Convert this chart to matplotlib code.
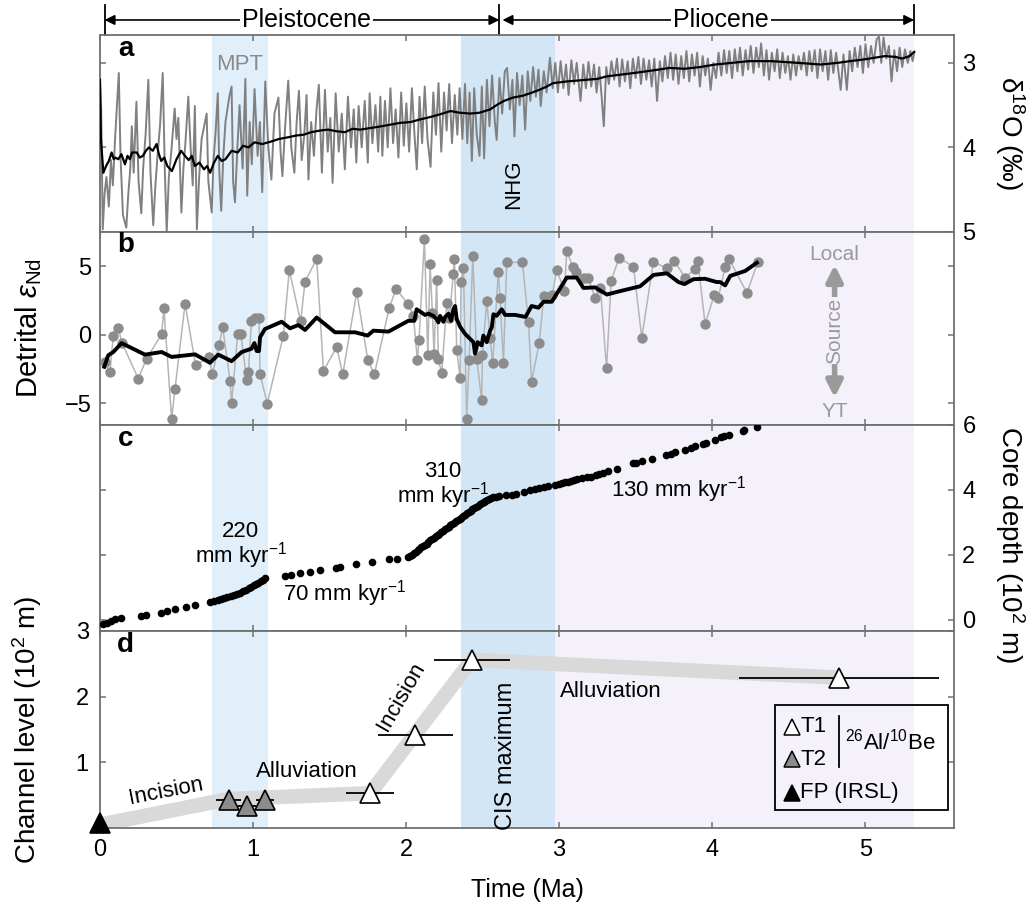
import matplotlib
matplotlib.use('Agg')
import matplotlib.pyplot as plt
from matplotlib import transforms
from matplotlib.patches import Rectangle

plt.rcParams['font.family'] = ['Liberation Sans Narrow', 'Liberation Sans', 'DejaVu Sans']
plt.rcParams['mathtext.fontset'] = 'custom'
plt.rcParams['mathtext.rm'] = 'Liberation Sans'
plt.rcParams['mathtext.it'] = 'Liberation Sans:italic'
plt.rcParams['mathtext.bf'] = 'Liberation Sans:bold'

# ---- data ----
# time windows (Ma)
mpt = (0.73, 1.10)
cis = (2.36, 2.97)
plio = (2.97, 5.32)
epoch_bounds = [0.03, 2.61, 5.32]

# a: benthic d18O stack (age Ma, permil), extremes of the raw curve
d18o_raw = [
    (0.000, 3.22), (0.008, 3.55), (0.018, 4.97), (0.030, 4.55), (0.042, 4.35), (0.058, 4.70), (0.072, 4.15), (0.084, 4.45), (0.100, 3.85), (0.123, 3.12),
    (0.134, 4.10), (0.150, 4.80), (0.172, 4.95), (0.185, 4.55), (0.198, 4.25), (0.208, 3.75), (0.220, 4.30), (0.238, 3.46), (0.252, 4.40), (0.270, 4.78),
    (0.282, 4.25), (0.298, 3.85), (0.316, 3.20), (0.330, 4.30), (0.348, 4.92), (0.362, 4.45), (0.378, 4.05), (0.392, 3.75), (0.410, 3.12), (0.424, 4.30),
    (0.436, 5.00), (0.450, 4.35), (0.466, 4.05), (0.488, 3.54), (0.500, 3.90), (0.512, 3.65), (0.532, 4.77), (0.545, 4.25), (0.558, 3.95), (0.577, 3.40),
    (0.592, 4.00), (0.606, 4.45), (0.620, 3.51), (0.633, 4.97), (0.648, 4.35), (0.664, 3.90), (0.697, 3.60), (0.708, 4.40), (0.730, 4.77), (0.742, 4.15),
    (0.756, 3.80), (0.770, 3.36), (0.780, 4.30), (0.792, 4.75), (0.806, 4.10), (0.820, 3.70), (0.845, 3.40), (0.860, 3.28), (0.870, 4.40), (0.882, 4.65),
    (0.898, 4.00), (0.912, 3.50), (0.932, 4.25), (0.950, 3.19), (0.962, 4.57), (0.978, 3.70), (0.992, 4.20),
    (1.010, 3.31), (1.030, 4.10), (1.045, 3.70), (1.060, 4.53), (1.080, 3.22), (1.100, 4.00), (1.120, 4.38), (1.140, 3.60), (1.166, 3.41), (1.180, 4.05),
    (1.192, 4.34), (1.210, 3.75), (1.230, 3.21), (1.250, 4.00), (1.270, 4.30), (1.285, 3.70), (1.300, 3.33), (1.318, 4.15), (1.335, 3.85), (1.350, 3.38),
    (1.362, 4.38), (1.380, 3.70), (1.398, 4.10), (1.415, 3.55), (1.430, 3.26), (1.450, 4.30), (1.470, 3.32), (1.488, 4.05), (1.505, 3.65), (1.520, 4.42),
    (1.540, 3.36), (1.560, 4.05), (1.580, 3.60), (1.600, 4.26), (1.620, 3.40), (1.640, 4.00), (1.658, 3.55), (1.675, 4.18), (1.690, 3.51), (1.710, 4.00),
    (1.730, 3.45), (1.750, 4.18), (1.762, 3.36), (1.780, 3.95), (1.800, 3.50), (1.818, 4.05), (1.832, 3.40), (1.845, 4.10),
    (1.862, 3.45), (1.880, 4.00), (1.898, 3.30), (1.915, 3.95), (1.932, 3.55), (1.950, 4.12), (1.968, 3.35), (1.985, 3.98), (2.002, 3.48), (2.020, 4.05),
    (2.038, 3.30), (2.055, 3.85), (2.070, 4.26), (2.088, 3.40), (2.105, 3.95), (2.122, 3.28), (2.140, 3.90), (2.160, 4.23), (2.178, 3.35), (2.195, 3.85),
    (2.212, 3.24), (2.230, 4.05), (2.248, 3.35), (2.265, 3.80), (2.282, 3.25), (2.300, 3.95), (2.318, 3.38), (2.335, 3.85), (2.350, 3.30),
    (2.368, 3.90), (2.385, 3.25), (2.400, 3.95), (2.415, 3.35), (2.430, 4.16), (2.445, 3.30), (2.462, 3.85), (2.480, 4.10), (2.495, 3.28), (2.510, 4.13),
    (2.528, 3.20), (2.545, 3.75), (2.562, 3.15), (2.580, 3.70), (2.592, 3.91), (2.610, 3.18), (2.628, 3.60), (2.645, 3.10), (2.660, 3.06), (2.678, 3.55),
    (2.695, 3.20), (2.708, 3.87), (2.725, 3.12), (2.742, 3.50), (2.760, 3.15), (2.778, 3.79), (2.795, 3.10), (2.812, 3.45), (2.830, 3.05), (2.848, 3.40),
    (2.865, 3.08), (2.880, 3.51), (2.900, 3.10), (2.918, 3.35), (2.940, 2.94), (2.958, 3.30),
    (2.975, 3.00), (2.992, 3.35), (3.010, 2.98), (3.028, 3.30), (3.045, 3.02), (3.062, 3.38), (3.080, 2.97), (3.098, 3.25), (3.115, 3.00), (3.140, 3.45),
    (3.158, 3.02), (3.175, 3.30), (3.192, 2.99), (3.210, 3.28), (3.228, 3.02), (3.245, 3.35), (3.262, 3.05), (3.278, 3.40), (3.292, 3.75), (3.308, 3.05),
    (3.325, 3.25), (3.342, 2.98), (3.360, 3.20), (3.378, 2.95), (3.395, 3.28), (3.412, 2.96), (3.430, 3.22), (3.448, 2.98), (3.465, 3.30), (3.482, 2.95),
    (3.500, 3.18), (3.518, 2.93), (3.535, 3.25), (3.552, 2.95), (3.570, 3.20), (3.588, 2.97), (3.605, 3.28), (3.622, 2.95), (3.640, 3.45), (3.658, 2.98),
    (3.675, 3.22), (3.692, 2.92), (3.710, 3.18),
    (3.728, 2.88), (3.745, 3.20), (3.762, 2.90), (3.780, 3.25), (3.798, 2.92), (3.815, 3.18), (3.832, 2.86), (3.850, 3.22), (3.868, 2.90), (3.885, 3.15),
    (3.902, 2.88), (3.920, 3.28), (3.938, 2.92), (3.955, 3.15), (3.972, 2.95), (3.990, 3.32), (4.008, 3.00), (4.025, 3.18), (4.042, 2.88), (4.060, 3.15),
    (4.078, 2.85), (4.095, 3.12), (4.112, 2.86), (4.130, 3.18), (4.148, 2.84), (4.165, 3.10), (4.182, 2.82), (4.200, 3.15), (4.218, 2.85), (4.235, 3.08),
    (4.252, 2.80), (4.270, 3.12), (4.288, 2.82), (4.305, 3.05), (4.320, 2.77), (4.338, 3.15), (4.355, 2.85), (4.372, 3.20), (4.390, 2.88), (4.408, 3.10),
    (4.425, 2.84), (4.442, 3.18), (4.460, 2.88), (4.478, 3.12), (4.495, 2.92), (4.512, 3.20), (4.530, 2.90), (4.548, 3.15), (4.565, 2.92), (4.582, 3.08),
    (4.600, 2.88), (4.618, 3.15), (4.635, 2.86), (4.652, 3.10), (4.670, 2.85), (4.688, 3.18), (4.705, 2.84), (4.722, 3.10), (4.740, 2.86), (4.758, 3.20),
    (4.775, 2.85), (4.792, 3.12), (4.810, 2.88), (4.840, 3.32), (4.858, 2.90), (4.880, 3.32), (4.898, 2.86), (4.915, 3.10), (4.932, 2.82), (4.950, 3.05),
    (4.968, 2.80), (4.985, 3.12), (5.002, 2.78), (5.020, 3.05), (5.038, 2.80), (5.055, 3.00), (5.075, 2.72), (5.090, 2.69), (5.105, 3.00), (5.120, 2.70),
    (5.138, 2.95), (5.155, 2.80), (5.172, 3.22), (5.190, 2.85), (5.208, 3.10), (5.225, 2.82), (5.242, 3.05), (5.260, 2.84), (5.278, 3.00), (5.295, 2.86),
    (5.310, 2.98), (5.320, 2.88),
]
d18o_smooth = [
    (0.000, 3.20), (0.006, 3.90), (0.022, 4.30), (0.040, 4.22), (0.058, 4.16), (0.076, 4.06), (0.090, 4.14), (0.100, 4.12), (0.120, 4.14), (0.140, 4.08),
    (0.163, 4.20), (0.180, 4.10), (0.195, 4.14), (0.210, 4.06), (0.240, 4.06), (0.260, 4.12), (0.280, 4.10), (0.300, 4.04), (0.320, 4.00), (0.345, 4.04),
    (0.370, 3.96), (0.385, 4.08), (0.400, 4.16), (0.420, 4.12), (0.440, 4.22), (0.470, 4.28), (0.500, 4.14), (0.530, 4.04), (0.555, 4.10), (0.580, 4.15),
    (0.600, 4.10), (0.620, 4.22), (0.650, 4.18), (0.680, 4.26), (0.700, 4.22), (0.720, 4.30), (0.745, 4.18), (0.770, 4.10), (0.795, 4.16), (0.820, 4.14),
    (0.860, 4.04), (0.900, 4.06), (0.935, 3.98), (0.970, 4.00), (1.010, 3.94), (1.060, 3.96), (1.120, 3.93), (1.170, 3.90), (1.230, 3.88), (1.280, 3.86),
    (1.330, 3.85), (1.380, 3.82), (1.440, 3.80), (1.490, 3.79), (1.550, 3.81), (1.600, 3.82), (1.650, 3.78), (1.700, 3.79), (1.770, 3.77), (1.840, 3.75),
    (1.900, 3.73), (1.960, 3.71), (2.030, 3.70), (2.090, 3.67), (2.160, 3.64), (2.220, 3.61), (2.290, 3.57), (2.350, 3.59), (2.420, 3.60), (2.480, 3.59),
    (2.550, 3.55), (2.600, 3.49), (2.640, 3.45), (2.700, 3.41), (2.760, 3.39), (2.810, 3.36), (2.870, 3.32), (2.920, 3.28), (2.960, 3.24), (3.050, 3.22),
    (3.180, 3.20), (3.250, 3.19), (3.310, 3.16), (3.400, 3.14), (3.490, 3.12), (3.570, 3.10), (3.650, 3.08), (3.720, 3.06), (3.820, 3.07), (3.920, 3.05),
    (4.020, 3.02), (4.130, 3.00), (4.240, 2.98), (4.390, 2.98), (4.560, 3.00), (4.710, 3.02), (4.820, 3.00), (4.900, 2.98), (4.990, 2.96), (5.060, 2.94),
    (5.130, 2.92), (5.200, 2.93), (5.240, 2.95), (5.290, 2.92), (5.320, 2.87),
]

# b: detrital eNd (age Ma, eNd)
end_pts = [
    (0.033, -1.99), (0.065, -2.76), (0.087, -0.07), (0.120, 0.46), (0.144, -0.60), (0.250, -3.21), (0.305, -1.75), (0.403, 0.05), (0.418, 1.92), (0.468, -6.14),
    (0.490, -3.98), (0.556, 2.25), (0.625, -2.23), (0.712, -1.63), (0.734, -2.90), (0.778, -0.79), (0.802, 0.53), (0.850, -3.38), (0.860, -4.99), (0.900, 0.05),
    (0.920, 0.05), (0.958, -3.31), (0.970, -2.71), (0.990, 1.00), (1.013, 1.20), (1.039, 1.20), (1.046, -2.90), (1.093, -5.04), (1.198, -0.07), (1.237, 4.72),
    (1.311, 0.96), (1.340, 3.88), (1.416, 5.52), (1.460, -2.64), (1.547, -0.91), (1.586, -2.90), (1.678, 3.12), (1.750, -1.87), (1.793, -2.90), (1.889, 1.92),
    (1.935, 3.33), (2.015, 2.21), (2.048, 1.37), (2.074, -1.87), (2.085, -0.36), (2.120, 7.00), (2.142, -1.51), (2.157, 5.13), (2.172, 1.61), (2.183, -1.39),
    (2.200, 4.00), (2.211, -1.80), (2.233, -2.83), (2.266, 2.33), (2.283, 1.25), (2.309, 4.44), (2.316, 5.56), (2.331, -1.10), (2.353, -3.19), (2.359, 3.88),
    (2.375, 4.84), (2.396, -6.14), (2.412, -1.82), (2.436, 5.76), (2.462, -1.80), (2.494, -4.80), (2.499, -1.51), (2.527, 2.49), (2.549, -0.26), (2.566, -2.06),
    (2.603, 4.60), (2.614, 2.69), (2.636, -2.06), (2.658, 5.28), (2.760, 5.28), (2.800, 0.89), (2.820, -3.43), (2.870, -0.62), (2.900, 2.81), (2.956, 2.93),
    (2.984, 4.72), (3.035, 3.21), (3.050, 6.09), (3.090, 4.96), (3.110, 4.60), (3.160, 4.12), (3.190, 4.12), (3.236, 2.69), (3.270, 3.40), (3.310, -2.47),
    (3.340, 3.93), (3.392, 5.61), (3.486, 4.96), (3.540, -0.24), (3.616, 5.32), (3.703, 4.84), (3.751, 5.40), (3.823, 4.17), (3.888, 4.80), (3.906, 5.40),
    (3.954, 0.77), (4.015, 2.93), (4.040, 2.69), (4.085, 4.96), (4.111, 5.52), (4.227, 3.05), (4.298, 5.28),
]
end_smooth = [
    (0.028, -2.35), (0.054, -1.51), (0.087, -1.27), (0.141, -0.62), (0.294, -1.46), (0.403, -1.27), (0.468, -1.63), (0.621, -1.44), (0.719, -2.06), (0.773, -1.46),
    (0.860, -1.94), (0.926, -1.27), (0.990, -1.03), (1.009, -0.62), (1.024, -1.20), (1.039, -1.20), (1.046, -0.19), (1.078, 0.41), (1.187, 0.94), (1.242, 0.46),
    (1.296, 0.70), (1.340, 0.34), (1.416, 1.25), (1.536, 0.17), (1.667, 0.17), (1.749, -0.07), (1.786, 0.29), (1.885, 0.22), (2.015, 1.01), (2.054, 1.01),
    (2.069, 1.85), (2.102, 1.61), (2.124, 1.44), (2.146, 1.53), (2.178, 1.37), (2.200, 1.13), (2.211, 0.89), (2.222, 1.37), (2.244, 0.94), (2.255, 1.29),
    (2.277, 1.53), (2.294, 1.01), (2.309, 1.85), (2.320, 2.09), (2.331, 1.13), (2.353, 0.58), (2.386, 0.05), (2.440, -0.55), (2.451, -1.39), (2.468, -0.55),
    (2.494, -0.79), (2.505, -0.07), (2.527, -0.55), (2.549, 0.29), (2.560, 0.53), (2.571, 1.49), (2.592, 1.37), (2.625, 1.85), (2.647, 1.44), (2.712, 1.44),
    (2.745, 1.37), (2.780, 1.29), (2.820, 2.09), (2.865, 1.97), (2.898, 2.40), (2.952, 2.40), (3.050, 4.17), (3.115, 4.17), (3.159, 3.41), (3.235, 3.45),
    (3.312, 2.93), (3.410, 3.21), (3.529, 3.53), (3.617, 4.36), (3.704, 4.48), (3.780, 3.84), (3.819, 3.69), (3.878, 4.05), (3.954, 4.08), (4.030, 3.84),
    (4.052, 3.84), (4.085, 3.60), (4.118, 4.29), (4.216, 4.65), (4.292, 5.25),
]

# c: age-depth tie points (age Ma, depth 10^2 m)
core = [
    (0.020, -0.14), (0.045, -0.08), (0.070, -0.02), (0.100, 0.02), (0.140, 0.07), (0.270, 0.13), (0.300, 0.16), (0.400, 0.21), (0.440, 0.27), (0.490, 0.33),
    (0.560, 0.41), (0.620, 0.47), (0.720, 0.56), (0.745, 0.59), (0.770, 0.62), (0.790, 0.65), (0.810, 0.67), (0.830, 0.70), (0.855, 0.73), (0.875, 0.76),
    (0.895, 0.80), (0.915, 0.84), (0.935, 0.88), (0.955, 0.92), (0.975, 0.97), (0.990, 1.02), (1.005, 1.06), (1.020, 1.10), (1.035, 1.15), (1.050, 1.19),
    (1.065, 1.24), (1.080, 1.28), (1.210, 1.35), (1.250, 1.38), (1.310, 1.43), (1.370, 1.49), (1.440, 1.53), (1.540, 1.59), (1.570, 1.63), (1.670, 1.71),
    (1.780, 1.77), (1.890, 1.87), (1.940, 1.89), (2.010, 1.94), (2.025, 1.97), (2.038, 2.00), (2.050, 2.05), (2.062, 2.10), (2.075, 2.15), (2.087, 2.19),
    (2.098, 2.23), (2.110, 2.27), (2.122, 2.31), (2.134, 2.35), (2.146, 2.40), (2.158, 2.45), (2.170, 2.49), (2.182, 2.53), (2.194, 2.57), (2.206, 2.61),
    (2.218, 2.66), (2.230, 2.70), (2.242, 2.74), (2.254, 2.79), (2.266, 2.83), (2.278, 2.87), (2.290, 2.91), (2.302, 2.95), (2.314, 2.99), (2.326, 3.03),
    (2.338, 3.07), (2.350, 3.11), (2.362, 3.15), (2.374, 3.19), (2.386, 3.24), (2.398, 3.28), (2.410, 3.32), (2.422, 3.36), (2.434, 3.40), (2.446, 3.44),
    (2.458, 3.48), (2.470, 3.52), (2.482, 3.56), (2.494, 3.60), (2.506, 3.63), (2.518, 3.66), (2.530, 3.69), (2.542, 3.72), (2.555, 3.75), (2.570, 3.77),
    (2.590, 3.79), (2.610, 3.81), (2.650, 3.84), (2.690, 3.86), (2.720, 3.89), (2.770, 3.94), (2.810, 3.99), (2.840, 4.02), (2.870, 4.05), (2.900, 4.08),
    (2.930, 4.11), (2.970, 4.15), (3.000, 4.19), (3.020, 4.21), (3.040, 4.24), (3.060, 4.26), (3.080, 4.28), (3.100, 4.31), (3.120, 4.33), (3.150, 4.36),
    (3.180, 4.39), (3.210, 4.41), (3.240, 4.45), (3.260, 4.48), (3.290, 4.52), (3.320, 4.57), (3.380, 4.64), (3.480, 4.82), (3.500, 4.84), (3.540, 4.88),
    (3.610, 4.95), (3.700, 5.09), (3.730, 5.12), (3.760, 5.16), (3.820, 5.24), (3.860, 5.30), (3.890, 5.36), (3.940, 5.40), (3.960, 5.43), (4.020, 5.55),
    (4.060, 5.62), (4.080, 5.66), (4.110, 5.68), (4.200, 5.82), (4.210, 5.86), (4.290, 5.95),
]

# d: channel level (10^2 m) and burial ages (Ma)
t1_age = [1.765, 2.06, 2.43, 4.83]
t1_err = [0.157, 0.245, 0.25, 0.655]
t1_lvl = [0.53, 1.42, 2.56, 2.29]
t2_age = [0.84, 0.96, 1.08]
t2_err = [0.08, 0.06, 0.06]
t2_lvl = [0.43, 0.33, 0.42]
fp_age = [0.0]
fp_lvl = [0.08]
path_age = [0.0, 0.84, 1.765, 2.43, 4.83]
path_lvl = [0.05, 0.44, 0.53, 2.56, 2.29]

# ---- figure ----
fig = plt.figure(figsize=(10.35, 9.10), dpi=100)
L, W = 0.0966, 0.8251
axA = fig.add_axes([L, 0.7451, W, 0.2165])
axB = fig.add_axes([L, 0.5330, W, 0.2121], sharex=axA)
axC = fig.add_axes([L, 0.3066, W, 0.2264], sharex=axA)
axD = fig.add_axes([L, 0.0901, W, 0.2165], sharex=axA)
axes = [axA, axB, axC, axD]

spine_c = '#707070'
for ax in axes:
    ax.axvspan(*mpt, color='#e1effa', lw=0, zorder=0)
    ax.axvspan(*cis, color='#d3e6f6', lw=0, zorder=0)
    ax.axvspan(*plio, color='#f5f1fb', lw=0, zorder=0)
    for s in ax.spines.values():
        s.set_color(spine_c)
        s.set_linewidth(1.3)
    ax.tick_params(direction='in', top=True, bottom=True, left=True, right=True,
                   length=4.5, width=1.1, color=spine_c, labelsize=17, pad=6,
                   labelbottom=False)
axA.set_xlim(0, 5.58)
axD.set_xticks([0, 1, 2, 3, 4, 5])
axD.tick_params(labelbottom=True, pad=8)
axD.set_xlabel('Time (Ma)', fontsize=18, labelpad=12)

# panel a
ax = axA
t, v = zip(*d18o_raw)
ax.plot(t, v, color='#808080', lw=1.4, zorder=2)
t, v = zip(*d18o_smooth)
ax.plot(t, v, color='black', lw=1.6, zorder=3)
ax.set_ylim(5.0, 2.67)
ax.set_yticks([3, 4, 5])
ax.tick_params(labelleft=False, labelright=True)
ax.yaxis.set_label_position('right')
ax.set_ylabel('δ$^{18}$O (‰)', rotation=270, fontsize=20, family='Liberation Sans')
ax.yaxis.set_label_coords(1.085, 0.5)
ax.text(0.915, 3.02, 'MPT', color='#8a8a8a', fontsize=16, ha='center', va='center', family='Liberation Sans')
ax.text(2.70, 4.44, 'NHG', rotation=90, fontsize=16, ha='center', va='center', family='Liberation Sans')

# epoch bracket
trans = transforms.blended_transform_factory(ax.transData, ax.transAxes)
for xb in epoch_bounds:
    ax.plot([xb, xb], [1.0, 1.15], color='black', lw=1.3, transform=trans, clip_on=False)
ax.annotate('', xy=(epoch_bounds[0], 1.076), xytext=(epoch_bounds[1], 1.076), xycoords=trans, textcoords=trans,
            arrowprops=dict(arrowstyle='<|-|>', color='black', lw=1.2, shrinkA=0, shrinkB=0, mutation_scale=15),
            annotation_clip=False)
ax.annotate('', xy=(epoch_bounds[1] + 0.02, 1.076), xytext=(epoch_bounds[2], 1.076), xycoords=trans, textcoords=trans,
            arrowprops=dict(arrowstyle='<|-|>', color='black', lw=1.2, shrinkA=0, shrinkB=0, mutation_scale=15),
            annotation_clip=False)
ax.text(1.35, 1.076, 'Pleistocene', transform=trans, fontsize=18, ha='center', va='center',
        bbox=dict(fc='white', ec='none', pad=1.5))
ax.text(4.06, 1.076, 'Pliocene', transform=trans, fontsize=18, ha='center', va='center',
        bbox=dict(fc='white', ec='none', pad=1.5))

# panel b
ax = axB
t, v = zip(*end_pts)
ax.plot(t, v, color='#b5b5b5', lw=1.1, zorder=2)
ax.plot(t, v, 'o', color='#8c8c8c', ms=7.5, mec='none', zorder=3)
t, v = zip(*end_smooth)
ax.plot(t, v, color='black', lw=2.8, zorder=4)
ax.set_ylim(-6.6, 7.5)
ax.set_yticks([-5, 0, 5])
ax.set_ylabel('Detrital $\\epsilon_{\\mathrm{Nd}}$', fontsize=21, family='Liberation Sans')
ax.yaxis.set_label_coords(-0.066, 0.5)
ax.annotate('', xy=(4.80, 5.1), xytext=(4.80, -4.6),
            arrowprops=dict(arrowstyle='<|-|>', color='#9a9a9a', lw=4, shrinkA=0, shrinkB=0, mutation_scale=24))
ax.text(4.80, 5.85, 'Local', color='#9a9a9a', fontsize=15, ha='center', va='center', family='Liberation Sans')
ax.text(4.80, -5.65, 'YT', color='#9a9a9a', fontsize=15, ha='center', va='center', family='Liberation Sans')
ax.text(4.80, 0.3, 'Source', color='#9a9a9a', fontsize=15, rotation=90, ha='center', va='center',
        family='Liberation Sans', bbox=dict(fc='#f5f1fb', ec='none', pad=0.5))

# panel c
ax = axC
t, v = zip(*core)
ax.plot(t, v, 'o', color='black', ms=5.5, mec='none', zorder=3)
ax.set_ylim(-0.34, 6.0)
ax.set_yticks([0, 2, 4, 6])
ax.tick_params(labelleft=False, labelright=True)
ax.yaxis.set_label_position('right')
ax.set_ylabel('Core depth (10$^2$ m)', rotation=270, fontsize=20, family='Liberation Sans')
ax.yaxis.set_label_coords(1.085, 0.42)
ax.text(0.92, 2.72, '220', fontsize=16, ha='center', va='center')
ax.text(0.92, 1.98, 'mm kyr$^{-1}$', fontsize=16, ha='center', va='center')
ax.text(1.60, 0.80, '70 mm kyr$^{-1}$', fontsize=16, ha='center', va='center')
ax.text(2.24, 4.58, '310', fontsize=16, ha='center', va='center')
ax.text(2.24, 3.84, 'mm kyr$^{-1}$', fontsize=16, ha='center', va='center')
ax.text(3.78, 4.00, '130 mm kyr$^{-1}$', fontsize=16, ha='center', va='center')

# panel d
ax = axD
ax.plot(path_age, path_lvl, color='#d9d9d9', lw=10.5, solid_joinstyle='miter', solid_capstyle='butt', zorder=2)
ax.errorbar(t2_age, t2_lvl, xerr=t2_err, fmt='none', ecolor='black', elinewidth=1.3, capsize=0, zorder=3)
ax.errorbar(t1_age, t1_lvl, xerr=t1_err, fmt='none', ecolor='black', elinewidth=1.3, capsize=0, zorder=3)
ax.plot(t2_age, t2_lvl, '^', ms=15, mfc='#8c8c8c', mec='black', mew=1.2, zorder=4, ls='none')
ax.plot(t1_age, t1_lvl, '^', ms=15, mfc='white', mec='black', mew=1.2, zorder=4, ls='none')
ax.plot(fp_age, fp_lvl, '^', ms=15, mfc='black', mec='black', mew=1.2, zorder=5, ls='none', clip_on=False)
ax.set_ylim(0, 3)
ax.set_yticks([1, 2, 3])
ax.set_ylabel('Channel level (10$^2$ m)', fontsize=20, family='Liberation Sans')
ax.yaxis.set_label_coords(-0.066, 0.5)
ax.text(0.43, 0.56, 'Incision', fontsize=16, rotation=11, ha='center', va='center')
ax.text(1.35, 0.86, 'Alluviation', fontsize=16, ha='center', va='center')
ax.text(1.97, 2.0, 'Incision', fontsize=16, rotation=60, ha='center', va='center')
ax.text(2.65, 1.10, 'CIS maximum', fontsize=17, rotation=90, ha='center', va='center', family='Liberation Sans')
ax.text(3.34, 2.08, 'Alluviation', fontsize=16, ha='center', va='center')

# hand-built legend box
ax.add_patch(Rectangle((4.41, 0.28), 1.13, 1.60, fill=False, ec='black', lw=1.3, zorder=5, clip_on=False))
ax.plot([4.52], [1.54], '^', ms=12, mfc='white', mec='black', mew=1.1, zorder=6, clip_on=False)
ax.plot([4.52], [1.05], '^', ms=12, mfc='#8c8c8c', mec='black', mew=1.1, zorder=6, clip_on=False)
ax.plot([4.52], [0.54], '^', ms=12, mfc='black', mec='black', mew=1.1, zorder=6, clip_on=False)
ax.text(4.575, 1.54, 'T1', fontsize=16, va='center', family='Liberation Sans', zorder=6)
ax.text(4.575, 1.05, 'T2', fontsize=16, va='center', family='Liberation Sans', zorder=6)
ax.text(4.575, 0.54, 'FP (IRSL)', fontsize=16, va='center', family='Liberation Sans', zorder=6)
ax.plot([4.83, 4.83], [0.93, 1.71], color='black', lw=1.3, zorder=6, clip_on=False)
ax.text(4.865, 1.32, '$^{26}$Al/$^{10}$Be', fontsize=16, va='center', family='Liberation Sans', zorder=6)

# panel letters
for ax, lab in zip(axes, 'abcd'):
    ax.text(0.03, 0.93, lab, transform=ax.transAxes, fontsize=20, fontweight='bold',
            family='Liberation Sans', ha='center', va='center', zorder=10)

fig.savefig('out.png', dpi=100)
